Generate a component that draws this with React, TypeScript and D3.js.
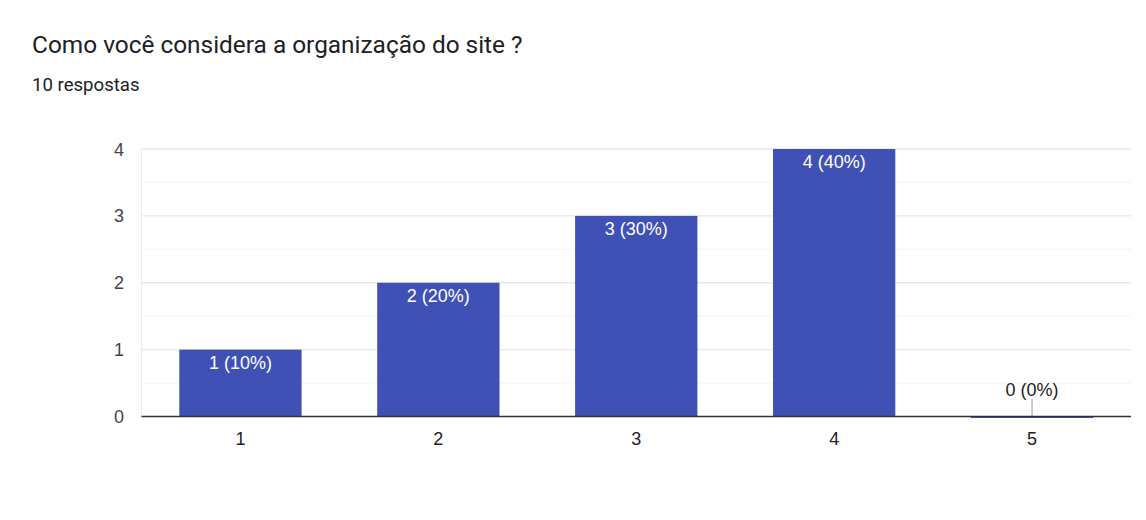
import React from "react";
import * as d3 from "d3";

const categories = ["1", "2", "3", "4", "5"];
const counts = [1, 2, 3, 4, 0];
const percents = ["10%", "20%", "30%", "40%", "0%"];
const yTicks = [0, 1, 2, 3, 4];
const yMinorTicks = [0.5, 1.5, 2.5, 3.5];

const W = 1146;
const H = 520;
const plot = { left: 141.5, right: 1131, top: 149, bottom: 416.5 };

const App = () => {
  const x = d3
    .scaleBand<string>()
    .domain(categories)
    .range([plot.left, plot.right])
    .paddingInner(0.382)
    .paddingOuter(0.191);

  const y = d3.scaleLinear().domain([0, 4]).range([plot.bottom, plot.top]);

  const font = "Arial, 'Liberation Sans', sans-serif";

  return (
    <svg width={W} height={H} style={{ position: "absolute", left: 0, top: 0 }}>
      <rect width={W} height={H} fill="#fff" />
      <text x={32} y={53} fontFamily="Roboto" fontSize={24.4} fill="#202124">
        Como você considera a organização do site ?
      </text>
      <text x={32} y={91} fontFamily="Roboto" fontSize={18.6} fill="#202124">
        10 respostas
      </text>

      {yMinorTicks.map(t => (
        <line key={"m" + t} x1={plot.left} x2={plot.right} y1={y(t)} y2={y(t)} stroke="#f3f3f3" strokeWidth={1} />
      ))}
      {yTicks.slice(1).map(t => (
        <line key={"g" + t} x1={plot.left} x2={plot.right} y1={y(t)} y2={y(t)} stroke="#e8e8e8" strokeWidth={1.3} />
      ))}
      <line x1={plot.left} x2={plot.left} y1={plot.top} y2={plot.bottom} stroke="#ebebeb" strokeWidth={1} />

      {yTicks.map(t => (
        <text key={"y" + t} x={124} y={y(t) + 6.5} textAnchor="end" fontFamily={font} fontSize={18} fill="#444">
          {t}
        </text>
      ))}

      {categories.map((c, i) => {
        const bx = x(c) as number;
        const bw = x.bandwidth();
        const v = counts[i];
        const top = y(v);
        const label = `${v} (${percents[i]})`;
        return (
          <g key={c}>
            <rect x={bx} y={top} width={bw} height={Math.max(plot.bottom - top, 1.5)} fill="#3f51b5" />
            {v > 0 ? (
              <text x={bx + bw / 2} y={top + 19} textAnchor="middle" fontFamily={font} fontSize={18} fill="#fff">
                {label}
              </text>
            ) : (
              <g>
                <line x1={bx + bw / 2} x2={bx + bw / 2} y1={399} y2={plot.bottom} stroke="#999" strokeWidth={1} />
                <text x={bx + bw / 2} y={396} textAnchor="middle" fontFamily={font} fontSize={18} fill="#222">
                  {label}
                </text>
              </g>
            )}
            <text x={bx + bw / 2} y={444.5} textAnchor="middle" fontFamily={font} fontSize={18} fill="#222">
              {c}
            </text>
          </g>
        );
      })}

      <line x1={plot.left} x2={plot.right} y1={plot.bottom} y2={plot.bottom} stroke="#333" strokeWidth={1.3} />
    </svg>
  );
};

export default App;
